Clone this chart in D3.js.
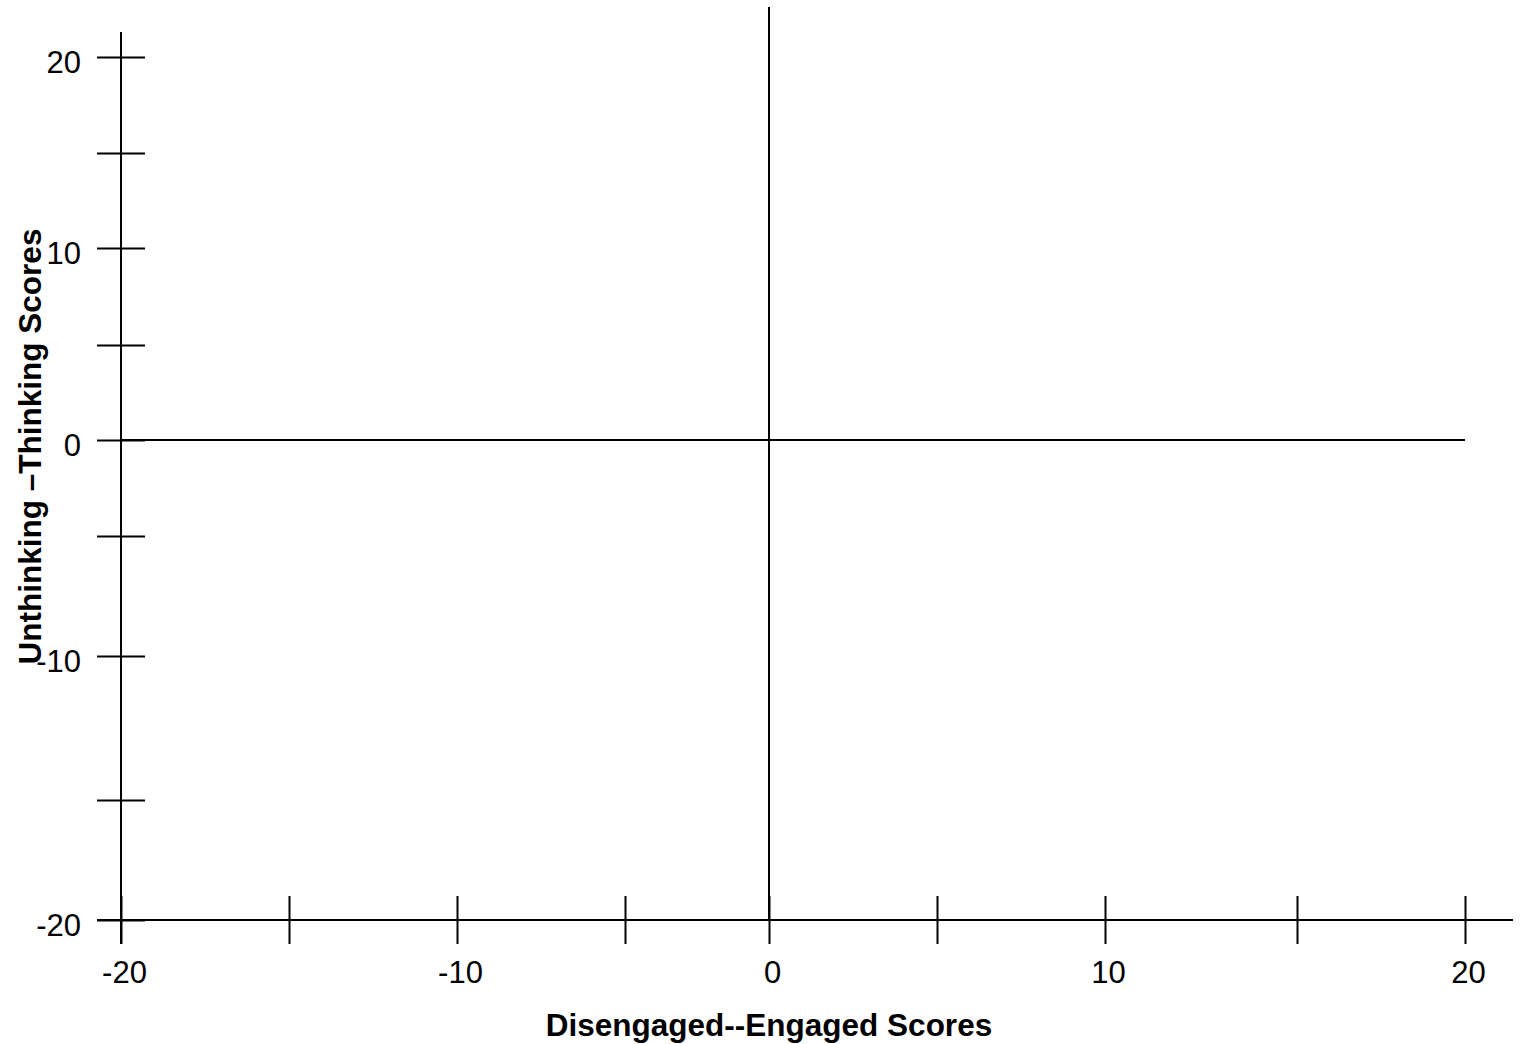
<!DOCTYPE html>
<html>
<head>
<meta charset="utf-8">
<script src="https://cdn.jsdelivr.net/npm/d3@7"></script>
<style>
  html, body { margin: 0; padding: 0; background: #fff; }
  svg { display: block; font-family: "Liberation Sans", Arial, sans-serif; }
</style>
</head>
<body>
<div id="chart"></div>
<script>
// ── Data ────────────────────────────────────────────
const xTicks  = [-20, -15, -10, -5, 0, 5, 10, 15, 20];
const xLabels = [-20, -10, 0, 10, 20];
const yTicks  = [20, 15, 10, 5, 0, -5, -10, -15, -20];
const yLabels = [20, 10, 0, -10, -20];
const xTitle  = "Disengaged--Engaged Scores";
const yTitle  = "Unthinking \u2013Thinking Scores";

// ── Layout (the original axes are hand-spaced, so the scales are piecewise) ──
const W = 1524, H = 1044;
const X_PX = [121, 289, 457, 625, 769, 937, 1105, 1297, 1465];
const Y_PX = [57, 153, 248, 345, 440, 536, 656, 800, 920];
const TICK = 24;
const STROKE = 2;

const x = d3.scaleLinear().domain(xTicks).range(X_PX);
const y = d3.scaleLinear().domain(yTicks).range(Y_PX);

const svg = d3.select("#chart").append("svg").attr("width", W).attr("height", H);

// X axis
const xAx = svg.append("g").attr("transform", `translate(0,${y(-20)})`)
  .call(d3.axisBottom(x).tickValues(xTicks).tickSize(TICK)
    .tickFormat(d => xLabels.includes(d) ? d : ""))
  .call(ax => ax.select(".domain").remove());
xAx.selectAll(".tick line")
  .attr("y1", -TICK).attr("y2", TICK).attr("stroke", "#000").attr("stroke-width", STROKE);
xAx.selectAll(".tick text")
  .attr("y", 63).attr("dy", 0).attr("x", 3)
  .attr("fill", "#000").attr("font-size", 31).attr("font-family", null);
xAx.append("line")
  .attr("x1", x(-20) - TICK).attr("x2", x(20) + 2 * TICK)
  .attr("stroke", "#000").attr("stroke-width", STROKE);

// Y axis
const yAx = svg.append("g").attr("transform", `translate(${x(-20)},0)`)
  .call(d3.axisLeft(y).tickValues(yTicks).tickSize(TICK)
    .tickFormat(d => yLabels.includes(d) ? d : ""))
  .call(ax => ax.select(".domain").remove());
yAx.selectAll(".tick line")
  .attr("x1", TICK).attr("x2", -TICK).attr("stroke", "#000").attr("stroke-width", STROKE);
yAx.selectAll(".tick text")
  .attr("x", -40).attr("dy", 15)
  .attr("fill", "#000").attr("font-size", 31).attr("font-family", null);
yAx.append("line")
  .attr("y1", y(20) - TICK - 1).attr("y2", y(-20) + TICK)
  .attr("stroke", "#000").attr("stroke-width", STROKE);

// Zero lines
svg.append("line")
  .attr("x1", x(0)).attr("x2", x(0)).attr("y1", y(20) - 50).attr("y2", y(-20))
  .attr("stroke", "#000").attr("stroke-width", STROKE);
svg.append("line")
  .attr("x1", x(-20)).attr("x2", x(20)).attr("y1", y(0)).attr("y2", y(0))
  .attr("stroke", "#000").attr("stroke-width", STROKE);

// Axis titles
svg.append("text")
  .attr("x", x(0)).attr("y", 1036)
  .attr("text-anchor", "middle").attr("font-size", 31.5).attr("font-weight", "bold")
  .text(xTitle);
svg.append("text")
  .attr("transform", `translate(41,${(y(20) + y(-20)) / 2 - 42}) rotate(-90)`)
  .attr("text-anchor", "middle").attr("font-size", 31.5).attr("font-weight", "bold")
  .text(yTitle);
</script>
</body>
</html>
